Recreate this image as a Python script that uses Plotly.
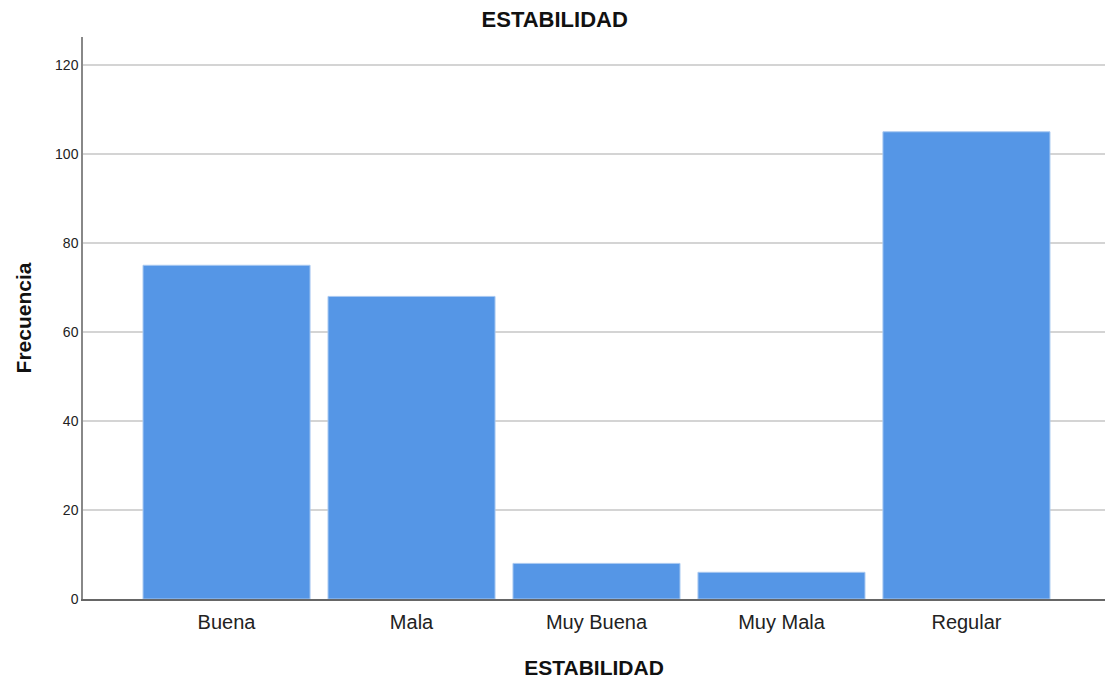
import plotly.graph_objects as go

categories = ["Buena", "Mala", "Muy Buena", "Muy Mala", "Regular"]
frecuencia = [75, 68, 8, 6, 105]
y_ticks = [0, 20, 40, 60, 80, 100, 120]

W, H = 1105, 679

fig = go.Figure(go.Bar(
    x=categories, y=frecuencia,
    marker=dict(color="#5596E6", line=dict(color="#A9C9F1", width=1)),
))

fig.update_layout(
    width=W, height=H,
    margin=dict(l=83, r=0, t=37, b=80),
    plot_bgcolor="white", paper_bgcolor="white",
    bargap=0.097,
    showlegend=False,
    font=dict(family="Liberation Sans, Arial, sans-serif", color="#222"),
    title=dict(text="<b>ESTABILIDAD</b>", x=0.502, xanchor="center",
               y=1 - 19.5 / H, yanchor="middle", xref="container", yref="container",
               font=dict(size=22, color="#111")),
)
fig.update_xaxes(
    range=[-0.776, 4.749],
    showline=True, linecolor="#666", linewidth=1.5,
    ticks="", tickfont=dict(size=20, color="#222"), ticklabelstandoff=4,
    title=dict(text="<b>ESTABILIDAD</b>", font=dict(size=21, color="#111"), standoff=30),
)
fig.update_yaxes(
    range=[0, 126.3], tickvals=y_ticks,
    showline=True, linecolor="#888", linewidth=1.5,
    showgrid=True, gridcolor="#D4D4D4", gridwidth=1.5,
    zeroline=False,
    ticks="", tickfont=dict(size=14, color="#222"),
    title=dict(text="<b>Frecuencia</b>", font=dict(size=21, color="#111"), standoff=18),
)

fig.write_html("out.html", config={"displayModeBar": False},
               post_script="document.body.style.margin='0';document.body.style.overflow='hidden';")
